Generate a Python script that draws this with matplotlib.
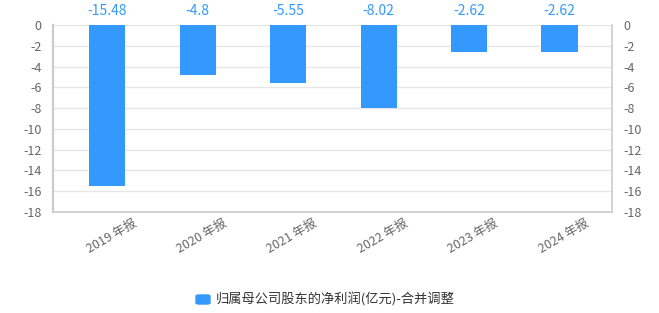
import matplotlib
matplotlib.use("Agg")
import matplotlib.pyplot as plt
import matplotlib.transforms as mtrans
from matplotlib.patches import FancyBboxPatch

plt.rcParams['font.family'] = ['Noto Sans CJK SC', 'DejaVu Sans']

# --- data ---
years = ["2019 年报", "2020 年报", "2021 年报", "2022 年报", "2023 年报", "2024 年报"]
profit = [-15.48, -4.8, -5.55, -8.02, -2.62, -2.62]
value_labels = ["-15.48", "-4.8", "-5.55", "-8.02", "-2.62", "-2.62"]
yticks = [0, -2, -4, -6, -8, -10, -12, -14, -16, -18]
series_name = "归属母公司股东的净利润(亿元)-合并调整"

bar_color = "#3399ff"
tick_color = "#666666"

fig = plt.figure(figsize=(6.59, 3.13), dpi=100)
ax = fig.add_axes([0.0804, 0.3227, 0.8483, 0.5973])

x = list(range(len(years)))
ax.bar(x, profit, width=0.40, color=bar_color, zorder=3)

ax.set_xlim(-0.6, len(years) - 0.42)
ax.set_ylim(-18, 0)
ax.set_yticks(yticks)
ax.set_yticklabels([str(t) for t in yticks])
ax.grid(axis='y', color='#e6e6e6', linewidth=1, zorder=0)
ax.tick_params(axis='y', length=0, labelsize=9, colors=tick_color, pad=8,
               labelright=True, right=False)
ax.set_xticks(x)
ax.set_xticklabels(years, rotation=30, ha='right', rotation_mode='anchor')
ax.tick_params(axis='x', length=0, labelsize=9, colors=tick_color, pad=3)

for s in ['left', 'right', 'bottom']:
    ax.spines[s].set_color('#cccccc')
ax.spines['left'].set_linewidth(1.6)
ax.spines['right'].set_linewidth(1.2)
ax.spines['bottom'].set_linewidth(1.2)
ax.spines['top'].set_visible(False)

# shift x labels so the text ends to the right of the bar centre
offset = mtrans.ScaledTranslation(25 / 100, 0, fig.dpi_scale_trans)
for lbl in ax.get_xticklabels():
    lbl.set_transform(lbl.get_transform() + offset)

for xi, lab in zip(x, value_labels):
    ax.annotate(lab, (xi, 0), xytext=(0, 5), textcoords='offset points',
                ha='center', va='bottom', fontsize=10, color=bar_color,
                annotation_clip=False)

# legend
fig.patches.append(FancyBboxPatch((196 / 659, 1 - 304 / 313), 14 / 659, 9 / 313,
                                  boxstyle="round,pad=0,rounding_size=0.004",
                                  transform=fig.transFigure, color=bar_color,
                                  figure=fig))
fig.text(216 / 659, 1 - 299.5 / 313, series_name, fontsize=9.5, color='#333333',
         ha='left', va='center')

fig.savefig("out.png", dpi=100)
